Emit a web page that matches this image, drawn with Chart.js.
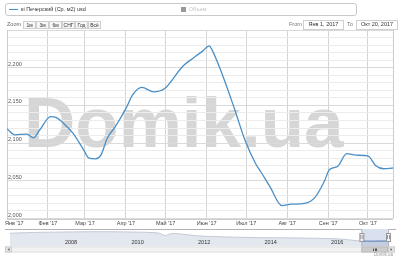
<!DOCTYPE html>
<html><head><meta charset="utf-8">
<script src="https://cdn.jsdelivr.net/npm/chart.js@4/dist/chart.umd.min.js"></script>
<style>
html,body{margin:0;padding:0;background:#fff;}
#wrap{position:relative;width:400px;height:258px;overflow:hidden;font-family:"Liberation Sans",Arial,sans-serif;}
#wm{position:absolute;left:24px;top:87px;font:bold 71px/71px "Liberation Sans",Arial,sans-serif;color:#d6d6d6;white-space:nowrap;z-index:0;}
canvas{position:absolute;left:0;z-index:1;}
#main{top:0;}
#nav{top:226px;}
.legend{position:absolute;left:5px;top:3px;width:350px;height:11px;border:1px solid #c9c9c9;border-radius:3px;z-index:2;background:transparent;}
.lg1{position:absolute;left:3px;top:5px;width:9px;height:1.3px;background:#4a8fc7;}
.lt1{position:absolute;left:15px;top:2px;font-size:5.5px;line-height:7px;color:#333;white-space:nowrap;}
.lg2{position:absolute;left:175px;top:3px;width:5px;height:5px;background:#999;}
.lt2{position:absolute;left:183px;top:2px;font-size:5.5px;line-height:7px;color:#c4c4c4;}
.zl{position:absolute;left:7px;top:21px;font-size:5.5px;line-height:7px;color:#666;z-index:2;}
.btn{position:absolute;top:20.5px;width:11px;height:6.5px;border:0.7px solid #cfcfcf;background:#f7f7f7;font-size:5px;line-height:6.5px;text-align:center;color:#333;z-index:2;}
.lab{position:absolute;top:21px;font-size:5.5px;line-height:7px;color:#777;z-index:2;}
.inp{position:absolute;top:20px;height:7.5px;border:0.7px solid #cfcfcf;background:#fff;font-size:5.5px;line-height:7.5px;text-align:center;color:#333;z-index:2;}
#cred{position:absolute;right:7px;top:252px;font-size:4.5px;line-height:5px;color:#999;z-index:2;}
</style></head>
<body>
<div id="wrap">
  <div id="wm">Domik.ua</div>
  <canvas id="main" width="400" height="258"></canvas>
  <canvas id="nav" width="400" height="32"></canvas>
  <div class="legend">
    <div class="lg1"></div><div class="lt1" id="seriesName"></div>
    <div class="lg2"></div><div class="lt2" id="series2Name"></div>
  </div>
  <div class="zl">Zoom</div>
  <div id="btns"></div>
  <div class="lab" style="left:289px">From</div>
  <div class="inp" style="left:303px;width:39px" id="fromIn"></div>
  <div class="lab" style="left:347px">To</div>
  <div class="inp" style="left:356px;width:40px" id="toIn"></div>
  <div id="cred">Domik.ua</div>
</div>
<script>
// ---- data ----
const seriesName = "кі Печерский (Ср. м2) usd";
const series2Name = "Объем";
const zoomButtons = ["1м", "3м", "6м", "СНГ", "Год", "Всё"];
const fromLabel = "Янв 1, 2017";
const toLabel = "Окт 20, 2017";

// main series: day of year 2017 (0 = Jan 1) and price
const days   = [0, 6, 15, 20, 25, 33, 37, 44, 50, 58, 62, 67, 71, 76, 82, 90, 95, 102, 111, 119, 133, 141, 148, 153, 155, 162, 172, 180, 188, 192, 199, 208, 215, 225, 233, 240, 244, 250, 257, 264, 273, 279, 285, 292];
const prices = [2119, 2111, 2112, 2107, 2118, 2135, 2134, 2124, 2113, 2091, 2080, 2079, 2084, 2107, 2122, 2146, 2164, 2174, 2168, 2172, 2202, 2213, 2222, 2229, 2224, 2195, 2146, 2104, 2073, 2062, 2042, 2017, 2019, 2020, 2028, 2049, 2065, 2069, 2086, 2084, 2083, 2070, 2066, 2067];

const monthTicks  = [0, 31, 59, 90, 120, 151, 181, 212, 243, 273];
const monthLabels = ["Янв '17", "Фев '17", "Мар '17", "Апр '17", "Май '17", "Июн '17", "Июл '17", "Авг '17", "Сен '17", "Окт '17"];
const yLabelValues = [2000, 2050, 2100, 2150, 2200];

// navigator series: year and value
const navYears  = [2006.44, 2007.1, 2008.1, 2009.1, 2010.1, 2010.9, 2011.1, 2011.25, 2011.4, 2012.15, 2013.65, 2015.15, 2016.35, 2017.0, 2017.8];
const navValues = [5230, 5560, 5760, 5890, 5760, 5350, 4320, 4940, 5150, 4120, 3500, 3290, 2880, 2060, 2060];
const navTickYears = [2008, 2010, 2012, 2014, 2016];
const navRange = [2017.0, 2017.8];

// ---- html texts ----
document.getElementById('seriesName').textContent = seriesName;
document.getElementById('series2Name').textContent = series2Name;
document.getElementById('fromIn').textContent = fromLabel;
document.getElementById('toIn').textContent = toLabel;
const btnWrap = document.getElementById('btns');
zoomButtons.forEach((b, i) => {
  const d = document.createElement('div');
  d.className = 'btn';
  d.style.left = (23 + i * 13) + 'px';
  d.textContent = b;
  btnWrap.appendChild(d);
});

const FONT = '"Liberation Sans", Arial, sans-serif';

const zeroPad = (scale) => { scale.paddingLeft = 0; scale.paddingRight = 0; scale.paddingTop = 0; scale.paddingBottom = 0; };

const mainPlugin = {
  id: 'mainDeco',
  afterDraw(chart) {
    const { ctx, chartArea, scales: { x } } = chart;
    ctx.save();
    ctx.strokeStyle = '#cccccc';
    ctx.lineWidth = 1;
    ctx.beginPath();
    ctx.moveTo(Math.round(chartArea.right) + 0.5, chartArea.top);
    ctx.lineTo(Math.round(chartArea.right) + 0.5, chartArea.bottom);
    ctx.moveTo(chartArea.left, Math.round(chartArea.bottom) + 0.5);
    ctx.lineTo(chartArea.right, Math.round(chartArea.bottom) + 0.5);
    ctx.stroke();
    ctx.font = '5.5px ' + FONT;
    ctx.fillStyle = '#444';
    ctx.textBaseline = 'middle';
    monthTicks.forEach((v, i) => {
      const px = x.getPixelForValue(v);
      const w = ctx.measureText(monthLabels[i]).width;
      let lx = px - w / 2;
      if (lx < 5) lx = 5;
      ctx.fillText(monthLabels[i], lx, chartArea.bottom + 4.5);
    });
    ctx.restore();
  }
};

new Chart(document.getElementById('main'), {
  type: 'line',
  data: {
    datasets: [{
      data: days.map((d, i) => ({ x: d, y: prices[i] })),
      borderColor: '#4a8fc7',
      borderWidth: 1.3,
      pointRadius: 0,
      fill: false,
      cubicInterpolationMode: 'monotone'
    }]
  },
  options: {
    responsive: false,
    animation: false,
    layout: { padding: { top: 30, left: 5, right: 7, bottom: 39.5 } },
    plugins: { legend: { display: false }, tooltip: { enabled: false } },
    scales: {
      x: {
        type: 'linear', min: 0, max: 292,
        afterBuildTicks: (s) => { s.ticks = monthTicks.map(v => ({ value: v })); },
        afterFit: zeroPad,
        ticks: { display: false },
        grid: { color: '#d4d4d4', drawTicks: false, lineWidth: 1 },
        border: { display: false }
      },
      y: {
        min: 2000, max: 2250,
        afterFit: zeroPad,
        ticks: {
          stepSize: 10, mirror: true, padding: 1, labelOffset: -3.5, autoSkip: false,
          font: { size: 5.5, family: FONT }, color: '#555',
          callback: (v) => (yLabelValues.includes(v) ? v.toLocaleString('en-US') : '')
        },
        grid: {
          drawTicks: false,
          color: (c) => (c.tick && c.tick.value % 50 === 0 ? '#dadada' : '#ececec')
        },
        border: { display: true, color: '#cccccc' }
      }
    }
  },
  plugins: [mainPlugin]
});

const navPlugin = {
  id: 'navDeco',
  afterDraw(chart) {
    const { ctx, chartArea: a, scales: { x } } = chart;
    const x0 = x.getPixelForValue(navRange[0]);
    const x1 = x.getPixelForValue(navRange[1]);
    ctx.save();
    ctx.fillStyle = 'rgba(102,133,194,0.25)';
    ctx.fillRect(x0, a.top, x1 - x0, a.bottom - a.top);
    ctx.strokeStyle = '#b2b1b6';
    ctx.lineWidth = 1;
    ctx.beginPath();
    ctx.moveTo(5, a.top + 0.5);
    ctx.lineTo(x0 + 0.5, a.top + 0.5);
    ctx.lineTo(x0 + 0.5, a.bottom + 0.5);
    ctx.lineTo(x1 + 0.5, a.bottom + 0.5);
    ctx.lineTo(x1 + 0.5, a.top + 0.5);
    ctx.lineTo(396, a.top + 0.5);
    ctx.stroke();
    [x0, x1].forEach(hx => {
      ctx.fillStyle = '#f2f2f2';
      ctx.strokeStyle = '#999';
      ctx.fillRect(hx - 2, a.top + 4, 4, 8);
      ctx.strokeRect(hx - 2 + 0.5, a.top + 4.5, 4, 8);
      ctx.beginPath();
      ctx.moveTo(hx - 0.5, a.top + 6); ctx.lineTo(hx - 0.5, a.top + 10);
      ctx.moveTo(hx + 1.5, a.top + 6); ctx.lineTo(hx + 1.5, a.top + 10);
      ctx.stroke();
    });
    ctx.font = '5.5px ' + FONT;
    ctx.fillStyle = '#333';
    ctx.textBaseline = 'middle';
    navTickYears.forEach(yv => {
      ctx.fillText(String(yv), x.getPixelForValue(yv) + 3, a.bottom - 4);
    });
    const sy = a.bottom + 0.5, sh = 6;
    ctx.fillStyle = '#f2f2f2';
    ctx.strokeStyle = '#e0e0e0';
    ctx.fillRect(5, sy, 390, sh);
    ctx.strokeRect(5.5, sy + 0.5, 389, sh - 1);
    ctx.fillStyle = '#e6e6e6';
    ctx.strokeStyle = '#cccccc';
    ctx.fillRect(5.5, sy + 0.5, 6, sh - 1); ctx.strokeRect(5.5, sy + 0.5, 6, sh - 1);
    ctx.fillRect(388.5, sy + 0.5, 6, sh - 1); ctx.strokeRect(388.5, sy + 0.5, 6, sh - 1);
    ctx.fillStyle = '#666';
    ctx.beginPath(); ctx.moveTo(9.5, sy + 1.5); ctx.lineTo(7.5, sy + 3); ctx.lineTo(9.5, sy + 4.5); ctx.fill();
    ctx.beginPath(); ctx.moveTo(390.5, sy + 1.5); ctx.lineTo(392.5, sy + 3); ctx.lineTo(390.5, sy + 4.5); ctx.fill();
    ctx.fillStyle = '#cccccc';
    ctx.strokeStyle = '#bbbbbb';
    ctx.fillRect(x0, sy + 0.5, x1 - x0, sh - 1);
    ctx.strokeRect(x0 + 0.5, sy + 0.5, x1 - x0 - 1, sh - 1);
    ctx.strokeStyle = '#555';
    ctx.beginPath();
    const mid = (x0 + x1) / 2;
    [-1.5, 0, 1.5].forEach(o => { ctx.moveTo(Math.round(mid + o) + 0.5, sy + 2); ctx.lineTo(Math.round(mid + o) + 0.5, sy + 4.5); });
    ctx.stroke();
    ctx.restore();
  }
};

new Chart(document.getElementById('nav'), {
  type: 'line',
  data: {
    datasets: [{
      data: navYears.map((yv, i) => ({ x: yv, y: navValues[i] })),
      borderColor: '#c3cad6',
      backgroundColor: '#e3e7ee',
      borderWidth: 1,
      pointRadius: 0,
      fill: 'origin',
      tension: 0.3,
      segment: { borderColor: (c) => (c.p0.parsed.x >= navRange[0] - 0.01 ? '#4572a7' : undefined) }
    }]
  },
  options: {
    responsive: false,
    animation: false,
    layout: { padding: { top: 3, left: 10, right: 8, bottom: 12 } },
    plugins: { legend: { display: false }, tooltip: { enabled: false } },
    scales: {
      x: { type: 'linear', display: false, min: 2006.44, max: 2017.92, afterFit: zeroPad },
      y: { display: false, min: 0, max: 7000, afterFit: zeroPad }
    }
  },
  plugins: [navPlugin]
});
</script>
</body></html>
